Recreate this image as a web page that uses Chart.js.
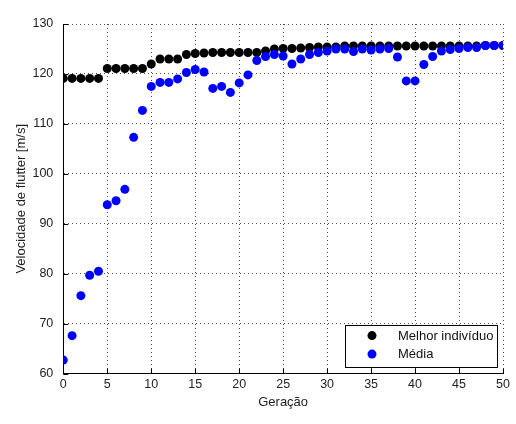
<!DOCTYPE html>
<html>
<head>
<meta charset="utf-8">
<script src="https://cdn.jsdelivr.net/npm/chart.js@4"></script>
<style>
    body { margin: 0; background: #fff; }
    canvas { display: block; }
</style>
</head>
<body>
<canvas id="flutterChart" width="516" height="424"></canvas>
<script>
// Data
const geracao = [0, 1, 2, 3, 4, 5, 6, 7, 8, 9, 10, 11, 12, 13, 14, 15, 16, 17, 18, 19, 20,
    21, 22, 23, 24, 25, 26, 27, 28, 29, 30, 31, 32, 33, 34, 35, 36, 37, 38, 39, 40,
    41, 42, 43, 44, 45, 46, 47, 48, 49, 50];

const melhorIndividuo = [119.1, 119.1, 119.1, 119.1, 119.1, 121.1, 121.1, 121.1, 121.1, 121.1,
    122.0, 123.0, 123.0, 123.0, 123.9, 124.1, 124.2, 124.3, 124.3, 124.3,
    124.3, 124.3, 124.3, 124.6, 125.0, 125.1, 125.1, 125.2, 125.3, 125.4,
    125.4, 125.4, 125.6, 125.6, 125.6, 125.6, 125.6, 125.6, 125.6, 125.6,
    125.6, 125.6, 125.6, 125.6, 125.6, 125.6, 125.6, 125.6, 125.7, 125.7, 125.7];

const media = [62.7, 67.6, 75.6, 79.7, 80.5, 93.8, 94.6, 96.9, 107.3, 112.7,
    117.5, 118.3, 118.3, 119.0, 120.3, 120.9, 120.4, 117.1, 117.5, 116.3,
    118.2, 119.8, 122.7, 123.5, 123.9, 123.6, 122.0, 123.0, 123.9, 124.3,
    124.6, 125.0, 125.0, 124.5, 125.0, 124.8, 125.0, 125.1, 123.4, 118.6,
    118.6, 121.9, 123.5, 124.6, 124.9, 125.1, 125.3, 125.3, 125.7, 125.7, 125.7];

const xTicks = [0, 5, 10, 15, 20, 25, 30, 35, 40, 45, 50];
const yTicks = [60, 70, 80, 90, 100, 110, 120, 130];

const FONT = { family: "'Liberation Sans', Arial, sans-serif", size: 12.5 };
const TITLE_FONT = { family: "'Liberation Sans', Arial, sans-serif", size: 13 };

function toPoints(values) {
    return values.map((v, i) => ({ x: geracao[i], y: v }));
}

// Small inward tick marks on the left and bottom axes
const innerTicks = {
    id: 'innerTicks',
    beforeDatasetsDraw(chart) {
        const { ctx, chartArea: a, scales: { x, y } } = chart;
        ctx.save();
        ctx.strokeStyle = '#000';
        ctx.lineWidth = 1;
        ctx.beginPath();
        xTicks.forEach(t => {
            const px = Math.round(x.getPixelForValue(t)) + 0.5;
            ctx.moveTo(px, a.bottom);
            ctx.lineTo(px, a.bottom - 5);
        });
        yTicks.forEach(t => {
            const py = Math.round(y.getPixelForValue(t)) + 0.5;
            ctx.moveTo(a.left, py);
            ctx.lineTo(a.left + 5, py);
        });
        ctx.stroke();
        ctx.restore();
    }
};

// Legend box inside the plot, lower right corner
const boxLegend = {
    id: 'boxLegend',
    afterDatasetsDraw(chart) {
        const { ctx, chartArea: a } = chart;
        const w = 152, h = 42;
        const right = a.right - 6, bottom = a.bottom - 7;
        const left = right - w, top = bottom - h;
        ctx.save();
        ctx.fillStyle = '#fff';
        ctx.fillRect(left, top, w, h);
        ctx.strokeStyle = '#000';
        ctx.lineWidth = 1;
        ctx.strokeRect(Math.round(left) + 0.5, Math.round(top) + 0.5, w, h);

        const items = [chart.data.datasets[1], chart.data.datasets[0]];
        ctx.font = TITLE_FONT.size + 'px ' + TITLE_FONT.family;
        ctx.textBaseline = 'middle';
        ctx.textAlign = 'left';
        items.forEach((ds, i) => {
            const cy = top + 11 + i * 18.5;
            ctx.fillStyle = ds.backgroundColor;
            ctx.beginPath();
            ctx.arc(left + 27, cy, 4.5, 0, Math.PI * 2);
            ctx.fill();
            ctx.fillStyle = '#111';
            ctx.fillText(ds.label, left + 53, cy + 0.5);
        });
        ctx.restore();
    }
};

const ctx = document.getElementById('flutterChart').getContext('2d');

new Chart(ctx, {
    type: 'scatter',
    data: {
        datasets: [
            {
                // drawn on top
                label: 'Média',
                data: toPoints(media),
                backgroundColor: '#0000ff',
                borderWidth: 0,
                pointRadius: 4.5,
                order: 0
            },
            {
                label: 'Melhor indivíduo',
                data: toPoints(melhorIndividuo),
                backgroundColor: '#000000',
                borderWidth: 0,
                pointRadius: 4.5,
                order: 1
            }
        ]
    },
    options: {
        responsive: false,
        animation: false,
        layout: { padding: { top: 24, right: 13, left: 0, bottom: 0 } },
        plugins: {
            legend: { display: false },
            tooltip: { enabled: false }
        },
        scales: {
            x: {
                type: 'linear',
                min: 0,
                max: 50,
                afterBuildTicks: scale => { scale.ticks = xTicks.map(v => ({ value: v })); },
                afterFit: scale => { scale.height = 50.4; },
                grid: { color: 'rgba(0,0,0,0.7)', drawTicks: false },
                border: { display: true, color: '#000', width: 1, dash: [1, 3] },
                ticks: { color: '#222', font: FONT, padding: 3, maxRotation: 0 },
                title: {
                    display: true,
                    text: 'Geração',
                    color: '#222',
                    font: TITLE_FONT,
                    padding: { top: 0, bottom: 14 }
                }
            },
            y: {
                min: 60,
                max: 130,
                afterBuildTicks: scale => { scale.ticks = yTicks.map(v => ({ value: v })); },
                afterFit: scale => { scale.width = 63.3; },
                grid: { color: 'rgba(0,0,0,0.7)', drawTicks: false },
                border: { display: true, color: '#000', width: 1, dash: [1, 3] },
                ticks: { color: '#222', font: FONT, padding: 10 },
                title: {
                    display: true,
                    text: 'Velocidade de flutter [m/s]',
                    color: '#222',
                    font: TITLE_FONT,
                    padding: { top: 14, bottom: 0 }
                }
            }
        }
    },
    plugins: [innerTicks, boxLegend]
});
</script>
</body>
</html>
